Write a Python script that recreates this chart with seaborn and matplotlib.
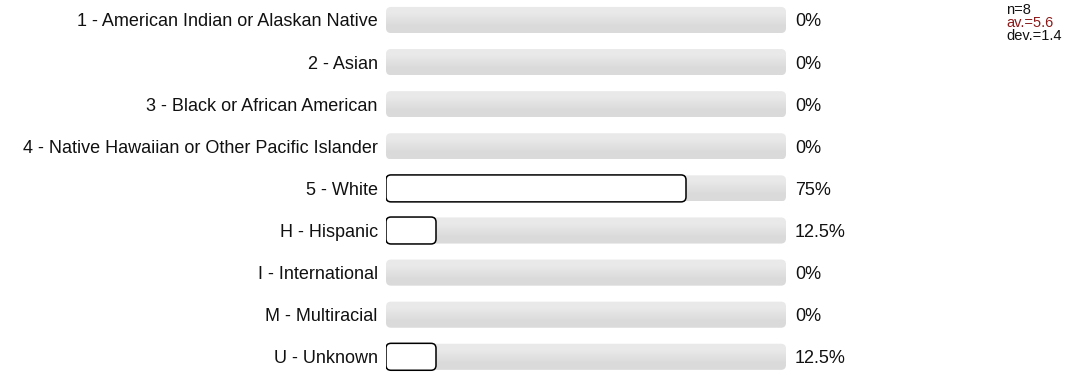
import matplotlib
matplotlib.use("Agg")
import matplotlib.pyplot as plt
from matplotlib.patches import FancyBboxPatch
import numpy as np
import seaborn as sns
import pandas as pd

sns.set_style("white")
plt.rcParams['font.family'] = ['Liberation Sans', 'DejaVu Sans']

# data
categories = [
    '1 - American Indian or Alaskan Native',
    '2 - Asian',
    '3 - Black or African American',
    '4 - Native Hawaiian or Other Pacific Islander',
    '5 - White',
    'H - Hispanic',
    'I - International',
    'M - Multiracial',
    'U - Unknown',
]
percent = [0, 0, 0, 0, 75, 12.5, 0, 0, 12.5]
full_scale = [100] * len(categories)
n_resp = 8
mean_val = 5.6
dev_val = 1.4

df = pd.DataFrame({'cat': categories, 'pct': percent, 'full': full_scale})

W, H = 1082, 376
fig = plt.figure(figsize=(W / 100, H / 100), dpi=100)
ax = fig.add_axes([386 / W, 0, 400 / W, 1])

sns.barplot(data=df, x='full', y='cat', orient='h', color='#e2e2e2',
            width=0.62, ax=ax)
n_bg = len(ax.patches)
sns.barplot(data=df, x='pct', y='cat', orient='h', color='white',
            width=0.64, ax=ax)

px_top = 20
row_px = 42.1
xlim = (0, 100)
ylim = ((H - px_top) / row_px, -px_top / row_px)
ax.set_xlim(*xlim)
ax.set_ylim(*ylim)

# turn the seaborn rectangles into rounded boxes
fig.canvas.draw()
x_px = ax.transData.transform((1, 0))[0] - ax.transData.transform((0, 0))[0]
y_px = abs(ax.transData.transform((0, 1))[1] - ax.transData.transform((0, 0))[1])
aspect = x_px / y_px
grad = np.array([[[0.915, 0.915, 0.915]], [[0.855, 0.855, 0.855]]])
patches = list(ax.patches)
for i, p in enumerate(patches):
    x0, y0, w, h = p.get_x(), p.get_y(), p.get_width(), p.get_height()
    p.remove()
    if w <= 0:
        continue
    bg = i < n_bg
    r = 5 / x_px
    box = FancyBboxPatch((x0, y0), w, h,
                         boxstyle=f"round,pad=0,rounding_size={r}",
                         mutation_aspect=aspect,
                         facecolor='none' if bg else 'white',
                         edgecolor='none' if bg else 'black',
                         linewidth=1.1, zorder=1 if bg else 2)
    ax.add_patch(box)
    if bg:
        im = ax.imshow(grad, extent=(x0, x0 + w, y0 + h, y0), aspect='auto',
                       interpolation='bilinear', zorder=1)
        im.set_clip_path(box)

ax.set_xlim(*xlim)
ax.set_ylim(*ylim)

for i, v in enumerate(percent):
    ax.text(102.25, i, f'{v:g}%', va='center_baseline', ha='left',
            fontsize=13, color='#111111', clip_on=False)

ax.set_xlabel('')
ax.set_ylabel('')
ax.set_xticks([])
ax.tick_params(axis='y', length=0, pad=6, labelsize=13, labelcolor='#111111')
for s in ax.spines.values():
    s.set_visible(False)

fig.text(1006 / W, 1 - 3 / H, f'n={n_resp}', fontsize=10.5, va='top', color='#111111')
fig.text(1006 / W, 1 - 16 / H, f'av.={mean_val}', fontsize=10.5, va='top', color='#8b1a1a')
fig.text(1006 / W, 1 - 29 / H, f'dev.={dev_val}', fontsize=10.5, va='top', color='#111111')

fig.savefig('out.png', dpi=100)
